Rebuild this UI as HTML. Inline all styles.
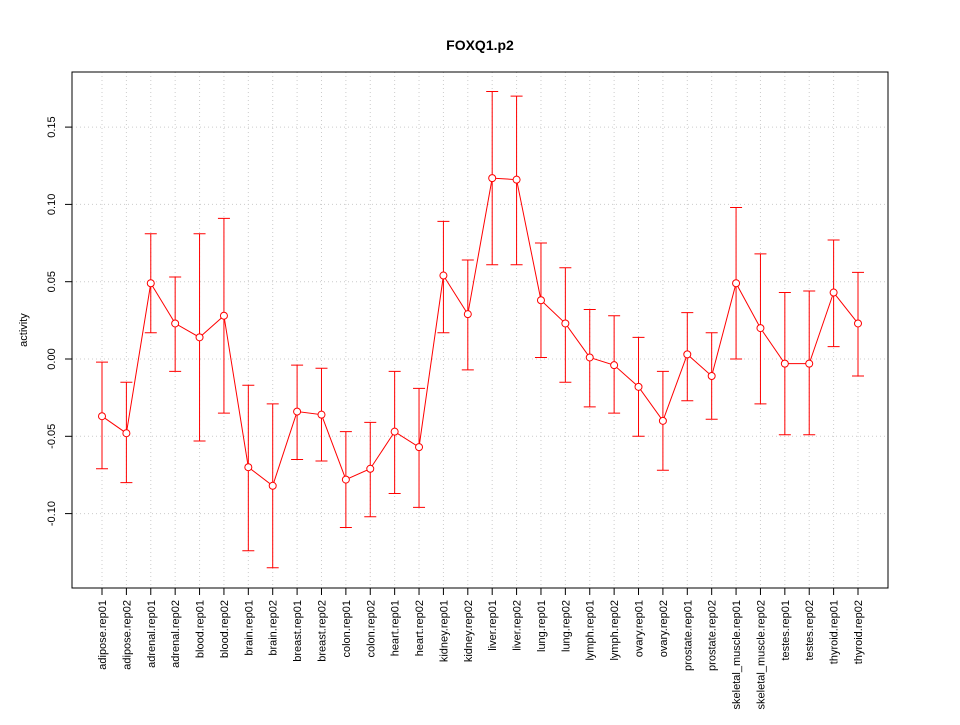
<!DOCTYPE html>
<html><head><meta charset="utf-8"><style>
body{margin:0;background:#fff}
svg text{font-family:"Liberation Sans",sans-serif}
</style></head><body>
<svg id="chart" width="960" height="720" xmlns="http://www.w3.org/2000/svg">
<rect width="960" height="720" fill="#fff"/>
<text x="480" y="50" text-anchor="middle" font-size="14" font-weight="bold">FOXQ1.p2</text>
<g id="grid"></g>
<g id="axes"></g>
<g id="marks"></g>
<rect x="72" y="72" width="816" height="516" fill="none" stroke="#000"/>
<text transform="translate(27,330) rotate(-90)" text-anchor="middle" font-size="11">activity</text>
</svg>
<script>
const categories=["adipose.rep01","adipose.rep02","adrenal.rep01","adrenal.rep02","blood.rep01","blood.rep02","brain.rep01","brain.rep02","breast.rep01","breast.rep02","colon.rep01","colon.rep02","heart.rep01","heart.rep02","kidney.rep01","kidney.rep02","liver.rep01","liver.rep02","lung.rep01","lung.rep02","lymph.rep01","lymph.rep02","ovary.rep01","ovary.rep02","prostate.rep01","prostate.rep02","skeletal_muscle.rep01","skeletal_muscle.rep02","testes.rep01","testes.rep02","thyroid.rep01","thyroid.rep02"];
const values=[-0.037,-0.048,0.049,0.023,0.014,0.028,-0.070,-0.082,-0.034,-0.036,-0.078,-0.071,-0.047,-0.057,0.054,0.029,0.117,0.116,0.038,0.023,0.001,-0.004,-0.018,-0.040,0.003,-0.011,0.049,0.020,-0.003,-0.003,0.043,0.023];
const upper=[-0.002,-0.015,0.081,0.053,0.081,0.091,-0.017,-0.029,-0.004,-0.006,-0.047,-0.041,-0.008,-0.019,0.089,0.064,0.173,0.170,0.075,0.059,0.032,0.028,0.014,-0.008,0.030,0.017,0.098,0.068,0.043,0.044,0.077,0.056];
const lower=[-0.071,-0.080,0.017,-0.008,-0.053,-0.035,-0.124,-0.135,-0.065,-0.066,-0.109,-0.102,-0.087,-0.096,0.017,-0.007,0.061,0.061,0.001,-0.015,-0.031,-0.035,-0.050,-0.072,-0.027,-0.039,0.000,-0.029,-0.049,-0.049,0.008,-0.011];
const yTicks=[-0.10,-0.05,0.00,0.05,0.10,0.15];
const yTickLabels=["-0.10","-0.05","0.00","0.05","0.10","0.15"];
const NS="http://www.w3.org/2000/svg";
const x0=102,x1=858;
function xs(i){return x0+(x1-x0)*i/(categories.length-1);}
function ys(v){return 359-v*1546;}
function mk(parent,tag,attrs){const e=document.createElementNS(NS,tag);for(const k in attrs)e.setAttribute(k,attrs[k]);document.getElementById(parent).appendChild(e);return e;}
yTicks.forEach((t,i)=>{
  let g=mk("grid","line",{x1:72,x2:888,y1:ys(t),y2:ys(t),stroke:"#ccc","stroke-dasharray":"1,3"});
  
  
  let tk=mk("axes","line",{x1:65,x2:72,y1:ys(t),y2:ys(t),stroke:"#000"});
  
  
  let tx=mk("axes","text",{transform:`translate(55,${ys(t)}) rotate(-90)`,"text-anchor":"middle","font-size":"11"});
  tx.textContent=yTickLabels[i];
  
  
});
categories.forEach((c,i)=>{
  const x=xs(i);
  let g=mk("grid","line",{x1:x,x2:x,y1:72,y2:588,stroke:"#ccc","stroke-dasharray":"1,3"});
  
  
  let tk=mk("axes","line",{x1:x,x2:x,y1:588,y2:595,stroke:"#000"});
  
  
  let tx=mk("axes","text",{transform:`translate(${x+4},600) rotate(-90)`,"text-anchor":"end","font-size":"11"});
  tx.textContent=c;
  
  
});
let d=values.map((v,i)=>(i?"L":"M")+xs(i)+","+ys(v)).join("");
let ln=mk("marks","path",{d:d,fill:"none",stroke:"#f00"});


values.forEach((v,i)=>{
  const x=xs(i);
  let e=mk("marks","path",{d:`M${x},${ys(upper[i])}L${x},${ys(lower[i])}M${x-6},${ys(upper[i])}L${x+6},${ys(upper[i])}M${x-6},${ys(lower[i])}L${x+6},${ys(lower[i])}`,stroke:"#f00",fill:"none"});
  
  
  let p=mk("marks","circle",{cx:x,cy:ys(v),r:3.5,fill:"#fff",stroke:"#f00"});
  
  
});
</script>
</body></html>
